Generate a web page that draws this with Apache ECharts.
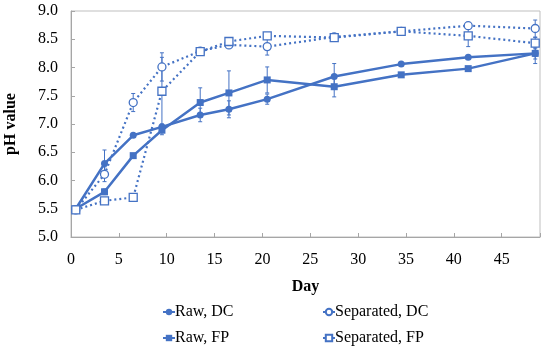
<!DOCTYPE html>
<html>
<head>
<meta charset="utf-8">
<script src="https://cdn.jsdelivr.net/npm/echarts@6/dist/echarts.min.js"></script>
<style>html,body{margin:0;padding:0;background:#fff}#c{width:550px;height:350px}</style>
</head>
<body>
<div id="c"></div>
<script>
var days = [0.5, 3.5, 6.5, 9.5, 13.5, 16.5, 20.5, 27.5, 34.5, 41.5, 48.5];
var rawDC = [5.50, 6.30, 6.80, 6.95, 7.16, 7.26, 7.44, 7.84, 8.06, 8.18, 8.25];
var rawDCerr = [0, 0.24, 0, 0.05, 0.12, 0.15, 0.09, 0.23, 0, 0.03, 0.18];
var rawFP = [5.50, 5.80, 6.44, 6.89, 7.38, 7.55, 7.78, 7.66, 7.87, 7.98, 8.25];
var rawFPerr = [0, 0.05, 0, 0.08, 0.26, 0.39, 0.23, 0.18, 0, 0, 0.10];
var sepDC = [5.48, 6.11, 7.38, 8.01, 8.29, 8.40, 8.37, 8.54, 8.64, 8.74, 8.69];
var sepDCerr = [0, 0.13, 0.16, 0.25, 0.05, 0.05, 0.15, 0, 0.03, 0, 0.15];
var sepFP = [5.48, 5.64, 5.70, 7.58, 8.28, 8.46, 8.56, 8.53, 8.64, 8.56, 8.43];
var sepFPerr = [0, 0, 0, 0.60, 0.04, 0, 0, 0, 0, 0.19, 0.10];
var xTicks = [0, 5, 10, 15, 20, 25, 30, 35, 40, 45];
var yTicks = [5.0, 5.5, 6.0, 6.5, 7.0, 7.5, 8.0, 8.5, 9.0];

var blue = '#4472C4';
var font = '"Liberation Serif", "DejaVu Serif", serif';

function pairs(vals) { return days.map(function (d, i) { return [d, vals[i]]; }); }
function errData(vals, errs) { return days.map(function (d, i) { return [d, vals[i], errs[i]]; }); }

function errSeries(vals, errs) {
  return {
    type: 'custom',
    silent: true,
    z: 1,
    data: errData(vals, errs),
    encode: { x: 0, y: 1 },
    renderItem: function (params, api) {
      var x = api.value(0), y = api.value(1), e = api.value(2);
      if (!e) return null;
      var top = api.coord([x, y + e]);
      var bot = api.coord([x, y - e]);
      var w = 2;
      var st = { stroke: blue, lineWidth: 1 };
      return {
        type: 'group',
        children: [
          { type: 'line', shape: { x1: top[0], y1: top[1], x2: bot[0], y2: bot[1] }, style: st },
          { type: 'line', shape: { x1: top[0] - w, y1: top[1], x2: top[0] + w, y2: top[1] }, style: st },
          { type: 'line', shape: { x1: bot[0] - w, y1: bot[1], x2: bot[0] + w, y2: bot[1] }, style: st }
        ]
      };
    }
  };
}

function legendAt(name, left, top) {
  return {
    data: [name], left: left, top: top, padding: 0,
    itemWidth: 12, itemHeight: 8, itemGap: 0,
    textStyle: { fontFamily: font, fontSize: 16, color: '#000', padding: [0, 0, 0, -5] }
  };
}

var chart = echarts.init(document.getElementById('c'));
chart.setOption({
  animation: false,
  backgroundColor: '#fff',
  grid: { left: 71, right: 10, top: 11, bottom: 113, show: true, borderColor: '#bfbfbf', borderWidth: 1, outerBoundsMode: 'none', containLabel: false },
  xAxis: {
    type: 'value', min: 0, max: 49, interval: 5,
    name: 'Day', nameLocation: 'middle', nameGap: 42,
    nameTextStyle: { fontFamily: font, fontSize: 16, fontWeight: 'bold', color: '#000' },
    axisLine: { lineStyle: { color: '#a6a6a6' } },
    axisTick: { inside: true, length: 4, lineStyle: { color: '#a6a6a6' } },
    axisLabel: {
      margin: 15, fontFamily: font, fontSize: 16, color: '#000',
      formatter: function (v) { return xTicks.indexOf(v) >= 0 ? String(v) : ''; }
    },
    splitLine: { show: false }
  },
  yAxis: {
    type: 'value', min: 5, max: 9, interval: 0.5,
    name: 'pH value', nameLocation: 'middle', nameGap: 52,
    nameTextStyle: { fontFamily: font, fontSize: 16, fontWeight: 'bold', color: '#000' },
    axisLine: { show: true, lineStyle: { color: '#a6a6a6' } },
    axisTick: { show: true, inside: true, length: 4, lineStyle: { color: '#a6a6a6' } },
    axisLabel: {
      margin: 13, fontFamily: font, fontSize: 16, color: '#000',
      formatter: function (v) { return yTicks.indexOf(v) >= 0 ? v.toFixed(1) : ''; }
    },
    splitLine: { show: false }
  },
  legend: [
    legendAt('Raw, DC', 162, 304),
    legendAt('Raw, FP', 162, 330),
    legendAt('Separated, DC', 322, 304),
    legendAt('Separated, FP', 322, 330)
  ],
  series: [
    errSeries(rawDC, rawDCerr),
    errSeries(rawFP, rawFPerr),
    errSeries(sepDC, sepDCerr),
    errSeries(sepFP, sepFPerr),
    {
      name: 'Raw, DC', type: 'line', z: 3, data: pairs(rawDC),
      symbol: 'circle', symbolSize: 7,
      itemStyle: { color: blue },
      lineStyle: { color: blue, width: 2.5 }
    },
    {
      name: 'Separated, DC', type: 'line', z: 3, data: pairs(sepDC),
      symbol: 'circle', symbolSize: 8,
      itemStyle: { color: '#fff', borderColor: blue, borderWidth: 1.3 },
      lineStyle: { color: blue, width: 2.2, type: [2, 3] }
    },
    {
      name: 'Raw, FP', type: 'line', z: 3, data: pairs(rawFP),
      symbol: 'rect', symbolSize: 7,
      itemStyle: { color: blue },
      lineStyle: { color: blue, width: 2.5 }
    },
    {
      name: 'Separated, FP', type: 'line', z: 3, data: pairs(sepFP),
      symbol: 'rect', symbolSize: 8,
      itemStyle: { color: '#fff', borderColor: blue, borderWidth: 1.3 },
      lineStyle: { color: blue, width: 2.2, type: [2, 3] }
    }
  ]
});
</script>
</body>
</html>
